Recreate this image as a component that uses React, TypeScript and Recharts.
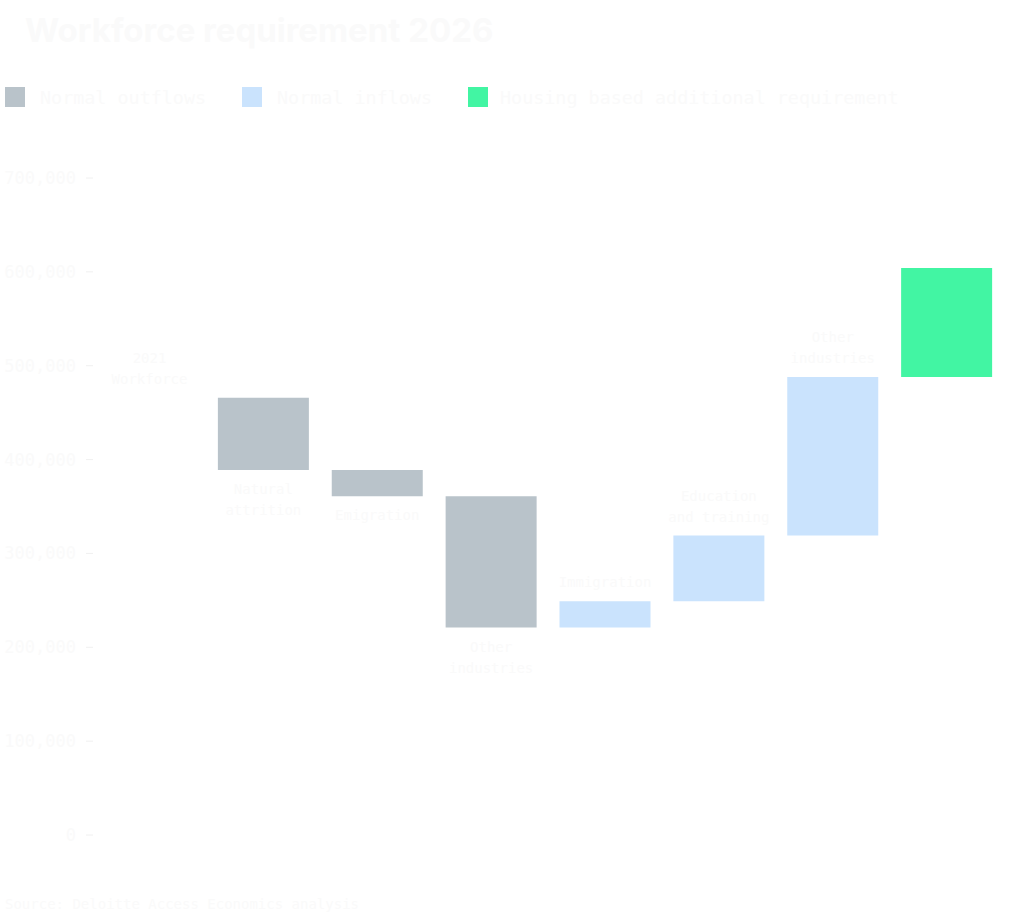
import { BarChart, Bar, XAxis, YAxis, Cell, LabelList } from 'recharts';

const categories = [
  '2021 Workforce',
  'Natural attrition',
  'Emigration',
  'Other industries',
  'Immigration',
  'Education and training',
  'Other industries',
  '2026 Workforce',
];
const labelLines = [
  ['2021', 'Workforce'],
  ['Natural', 'attrition'],
  ['Emigration'],
  ['Other', 'industries'],
  ['Immigration'],
  ['Education', 'and training'],
  ['Other', 'industries'],
  ['2026', 'Workforce'],
];
const startWorkforce = 466000;
const flowValues = [-77000, -28000, -140000, 28000, 70000, 169000];
const housingExtra = 116000;
const yTicks = [0, 100000, 200000, 300000, 400000, 500000, 600000, 700000];
const legendItems = ['Normal outflows', 'Normal inflows', 'Housing based additional requirement'];

const colors = {
  out: '#b9c3ca',
  in: '#cae3fd',
  total: '#ffffff',
  housing: '#42f5a3',
};
const textColor = '#fafafa';
const mono = '"DejaVu Sans Mono", monospace';

type Row = { name: string; base: number; value: number; extra: number; kind: string };

function buildRows(): Row[] {
  const rows: Row[] = [];
  let level = startWorkforce;
  rows.push({ name: categories[0], base: 0, value: startWorkforce, extra: 0, kind: 'total' });
  flowValues.forEach((v, i) => {
    const next = level + v;
    rows.push({
      name: categories[i + 1],
      base: Math.min(level, next),
      value: Math.abs(v),
      extra: 0,
      kind: v < 0 ? 'out' : 'in',
    });
    level = next;
  });
  rows.push({ name: categories[7], base: 0, value: level, extra: housingExtra, kind: 'total' });
  return rows;
}

const data = buildRows();

function renderLines(cx: number, firstBaseline: number, lines: string[], key: string) {
  return (
    <text key={key} x={cx} y={firstBaseline} textAnchor="middle" fill={textColor} fontFamily={mono} fontSize={14}>
      {lines.map((l, i) => (
        <tspan key={i} x={cx} dy={i === 0 ? 0 : 21}>
          {l}
        </tspan>
      ))}
    </text>
  );
}

function box(props: any) {
  const vb = props.viewBox || {};
  const x = Number(props.x ?? vb.x);
  const y = Number(props.y ?? vb.y);
  const w = Number(props.width ?? vb.width);
  const h = Number(props.height ?? vb.height);
  return { x, y, w, h };
}

// outflow labels sit under their bar, the rest above
function ValueLabel(props: any) {
  const idx = props.index;
  if (idx === 7) return null;
  const row = data[idx];
  const lines = labelLines[idx];
  const { x, y, w, h } = box(props);
  const top = Math.min(y, y + h);
  const bottom = Math.max(y, y + h);
  const cx = x + w / 2;
  if (row.kind === 'out') return renderLines(cx, bottom + 24, lines, 'l' + idx);
  return renderLines(cx, top - 14 - (lines.length - 1) * 21, lines, 'l' + idx);
}

function ExtraLabel(props: any) {
  const idx = props.index;
  if (idx !== 7) return null;
  const lines = labelLines[idx];
  const { x, y, w, h } = box(props);
  const top = Math.min(y, y + h);
  return renderLines(x + w / 2, top - 14 - (lines.length - 1) * 21, lines, 'e' + idx);
}

export default function App() {
  return (
    <div style={{ position: 'absolute', left: 0, top: 0, width: 1009, height: 915, background: '#ffffff' }}>
      <div
        style={{
          position: 'absolute',
          left: 25,
          top: 10,
          fontFamily: 'Inter, sans-serif',
          fontWeight: 700,
          fontSize: 33,
          color: textColor,
          whiteSpace: 'nowrap',
        }}
      >
        Workforce requirement 2026
      </div>
      {legendItems.map((label, i) => {
        const left = [5, 242, 468][i];
        const swatch = [colors.out, colors.in, colors.housing][i];
        return (
          <div key={label} style={{ position: 'absolute', left, top: 87, height: 20, display: 'flex', alignItems: 'center' }}>
            <div style={{ width: 20, height: 20, background: swatch }} />
            <span
              style={{
                marginLeft: i === 2 ? 12 : 15,
                fontFamily: mono,
                fontSize: 18.4,
                color: textColor,
                whiteSpace: 'nowrap',
              }}
            >
              {label}
            </span>
          </div>
        );
      })}
      <div style={{ position: 'absolute', left: 0, top: 0 }}>
        <BarChart
          width={1009}
          height={915}
          data={data}
          margin={{ top: 178, right: 5, bottom: 80, left: 0 }}
          barSize={91}
        >
          <XAxis dataKey="name" tick={false} tickLine={false} height={0} axisLine={{ stroke: '#f0f0f0' }} />
          <YAxis
            width={93}
            domain={[0, 700000]}
            ticks={yTicks}
            interval={0}
            axisLine={false}
            tickLine={{ stroke: '#f0f0f0' }}
            tickSize={7}
            tickMargin={10}
            tick={{ fill: textColor, fontSize: 17, fontFamily: mono }}
            tickFormatter={(v: number) => v.toLocaleString('en-US')}
          />
          <Bar dataKey="base" stackId="w" fill="transparent" isAnimationActive={false} />
          <Bar dataKey="value" stackId="w" isAnimationActive={false}>
            {data.map((r, i) => (
              <Cell key={i} fill={r.kind === 'out' ? colors.out : r.kind === 'in' ? colors.in : colors.total} />
            ))}
            <LabelList dataKey="value" content={ValueLabel} />
          </Bar>
          <Bar dataKey="extra" stackId="w" fill={colors.housing} isAnimationActive={false}>
            <LabelList dataKey="extra" content={ExtraLabel} />
          </Bar>
        </BarChart>
      </div>
      <div
        style={{
          position: 'absolute',
          left: 5,
          top: 896,
          fontFamily: mono,
          fontSize: 14,
          color: textColor,
          whiteSpace: 'nowrap',
        }}
      >
        Source: Deloitte Access Economics analysis
      </div>
    </div>
  );
}
